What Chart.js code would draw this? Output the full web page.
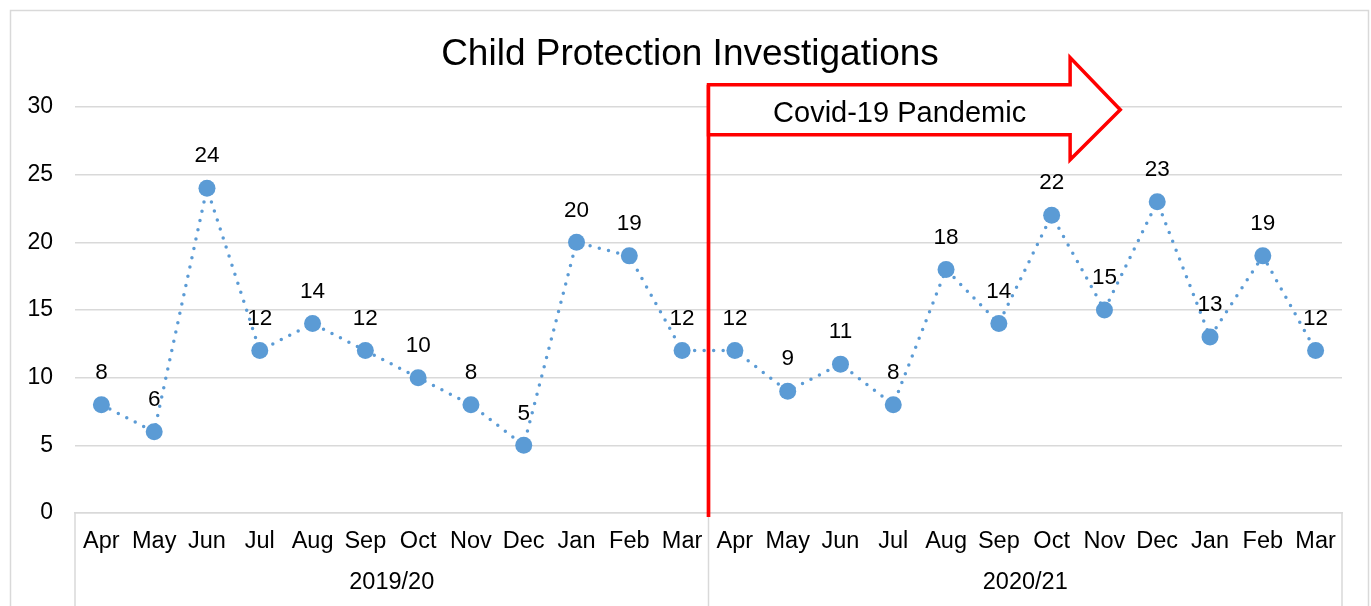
<!DOCTYPE html>
<html><head><meta charset="utf-8">
<script src="https://cdn.jsdelivr.net/npm/chart.js@4/dist/chart.umd.min.js"></script>
<style>html,body{margin:0;padding:0;background:#fff;overflow:hidden}#wrap{width:1371px;height:606px;position:relative}</style>
</head><body><div id="wrap"><canvas id="c" width="1371" height="606" style="width:1371px;height:606px"></canvas></div>
<script>
// ---- data ----
const months = ['Apr','May','Jun','Jul','Aug','Sep','Oct','Nov','Dec','Jan','Feb','Mar',
                'Apr','May','Jun','Jul','Aug','Sep','Oct','Nov','Dec','Jan','Feb','Mar'];
const years = ['2019/20','2020/21'];
const monthsPerYear = [12, 12];
const investigations = [8,6,24,12,14,12,10,8,5,20,19,12, 12,9,11,8,18,14,22,15,23,13,19,12];
const yMin = 0, yMax = 30, yStep = 5;
const chartTitle = 'Child Protection Investigations';
const covidLabel = 'Covid-19 Pandemic';

const FONT = "'Liberation Sans', Arial, sans-serif";
const BLUE = '#5B9BD5';
const GRID = '#d9d9d9';

const extras = {
  id: 'extras',
  beforeDraw(chart) {
    const ctx = chart.ctx;
    ctx.save();
    ctx.fillStyle = '#fff';
    ctx.fillRect(0, 0, chart.width, chart.height);
    ctx.strokeStyle = GRID; ctx.lineWidth = 1.5;
    ctx.strokeRect(10.5, 10.5, 1358, 800);
    ctx.restore();
  },
  afterDraw(chart) {
    const ctx = chart.ctx, xs = chart.scales.x, ys = chart.scales.y, area = chart.chartArea;
    const p0 = xs.getPixelForValue(0), step = xs.getPixelForValue(1) - p0;
    const px = i => p0 + i * step;
    const py = v => ys.getPixelForValue(v);
    ctx.save();
    // title
    ctx.fillStyle = '#000'; ctx.textAlign = 'center'; ctx.textBaseline = 'alphabetic';
    ctx.font = '37px ' + FONT;
    ctx.fillText(chartTitle, 690, 65);
    // group axis box lines and labels
    ctx.strokeStyle = GRID; ctx.lineWidth = 1.5;
    let start = 0;
    const bounds = [px(-0.5)];
    monthsPerYear.forEach(n => { start += n; bounds.push(px(start - 0.5)); });
    bounds.forEach(b => { ctx.beginPath(); ctx.moveTo(b, area.bottom); ctx.lineTo(b, chart.height); ctx.stroke(); });
    ctx.font = '23.5px ' + FONT; ctx.textBaseline = 'middle';
    years.forEach((y, k) => ctx.fillText(y, (bounds[k] + bounds[k + 1]) / 2, 583));
    // data labels
    ctx.font = '22.5px ' + FONT;
    const meta = chart.getDatasetMeta(0);
    meta.data.forEach((pt, i) => ctx.fillText(String(investigations[i]), pt.x, pt.y - 32));
    // covid marker line + arrow
    const xL = px(11.5);
    ctx.strokeStyle = '#ff0000'; ctx.lineWidth = 3.7;
    ctx.beginPath(); ctx.moveTo(xL, py(31.65)); ctx.lineTo(xL, py(-0.3)); ctx.stroke();
    const xb = px(18.35), xt = px(19.3);
    const sTop = py(31.65), sBot = py(27.95), hTop = py(33.65), hBot = py(26.1), mid = (sTop + sBot) / 2;
    ctx.lineWidth = 3.5; ctx.lineJoin = 'miter';
    ctx.beginPath();
    ctx.moveTo(xL, sTop); ctx.lineTo(xb, sTop); ctx.lineTo(xb, hTop); ctx.lineTo(xt, mid);
    ctx.lineTo(xb, hBot); ctx.lineTo(xb, sBot); ctx.lineTo(xL, sBot); ctx.closePath();
    ctx.fillStyle = '#fff'; ctx.fill(); ctx.stroke();
    ctx.fillStyle = '#000'; ctx.font = '29px ' + FONT; ctx.textBaseline = 'alphabetic';
    ctx.fillText(covidLabel, px(15.12), 122);
    ctx.restore();
  }
};

new Chart(document.getElementById('c'), {
  type: 'line',
  data: {
    labels: months,
    datasets: [{
      data: investigations,
      borderColor: BLUE,
      backgroundColor: BLUE,
      borderWidth: 3.5,
      borderDash: [0, 9.5],
      borderCapStyle: 'round',
      tension: 0,
      pointRadius: 8.5,
      pointHoverRadius: 8.5,
      pointBackgroundColor: BLUE,
      pointBorderColor: BLUE,
      pointBorderWidth: 0
    }]
  },
  options: {
    responsive: false,
    maintainAspectRatio: false,
    animation: false,
    events: [],
    devicePixelRatio: 1,
    layout: { padding: { left: 0, right: 29, top: 107, bottom: 0 } },
    plugins: { legend: { display: false }, title: { display: false }, tooltip: { enabled: false } },
    scales: {
      x: {
        type: 'category',
        offset: true,
        grid: { display: false, drawTicks: false },
        border: { display: true, color: GRID, width: 1.5 },
        ticks: { autoSkip: false, maxRotation: 0, minRotation: 0, padding: 14, color: '#000',
                 font: { family: FONT, size: 23.5 } },
        afterFit(s) { s.height = 93; }
      },
      y: {
        min: yMin, max: yMax,
        grid: { color: GRID, lineWidth: 1.5, drawTicks: false },
        border: { display: false },
        ticks: { stepSize: yStep, padding: 22, color: '#000', font: { family: FONT, size: 23 } },
        afterFit(s) { s.width = 75; }
      }
    }
  },
  plugins: [extras]
});
</script>
</body></html>
